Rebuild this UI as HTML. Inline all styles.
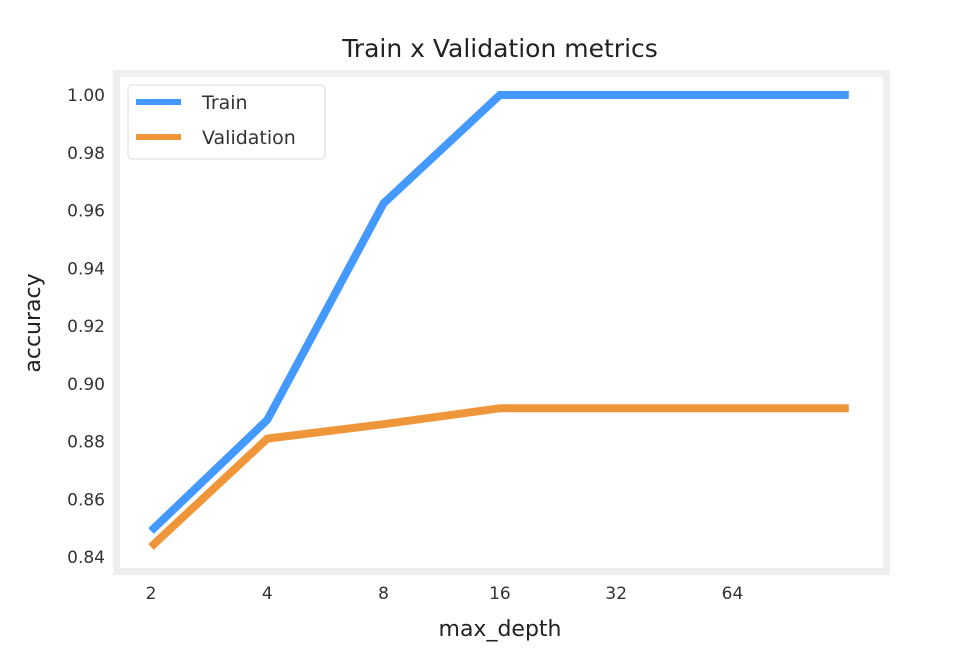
<!DOCTYPE html>
<html><head><meta charset="utf-8"><style>
body{margin:0;background:#fff;}
svg{display:block;font-family:"DejaVu Sans","Liberation Sans",sans-serif;}
</style></head><body>
<svg id="chart" width="954" height="670">
<text x="500" y="57" text-anchor="middle" font-size="25" fill="#222">Train x Validation metrics</text>
<rect x="116.5" y="73.5" width="770" height="498" fill="#fff" stroke="#efefef" stroke-width="7"/>
<g id="yticks"></g><g id="xticks"></g><g id="lines"></g>
<text x="500" y="636" text-anchor="middle" font-size="22" fill="#222">max_depth</text>
<text transform="translate(40,323) rotate(-90)" text-anchor="middle" font-size="22" fill="#222">accuracy</text>
<g>
<rect x="128" y="85" width="197" height="74" rx="4" fill="#fff" stroke="#e6e6e6" stroke-width="1.5"/>
<line x1="136" y1="102" x2="181" y2="102" stroke="#4499ff" stroke-width="6"/>
<text x="202" y="109" font-size="19" fill="#333">Train</text>
<line x1="136" y1="137" x2="181" y2="137" stroke="#f0963a" stroke-width="6"/>
<text x="202" y="144" font-size="19" fill="#333">Validation</text>
</g>
</svg>
<script>
const categories = ["2","4","8","16","32","64","None"];
const xTickLabels = ["2","4","8","16","32","64"];
const trainValues = [0.849,0.8875,0.9625,1.0,1.0,1.0,1.0];
const validationValues = [0.8435,0.881,0.886,0.8915,0.8915,0.8915,0.8915];
const yTicks = [0.84,0.86,0.88,0.90,0.92,0.94,0.96,0.98,1.00];
const NS="http://www.w3.org/2000/svg";
function xs(i){return 151+i*116.3;}
function ys(v){return 557-(v-0.84)/0.02*57.75;}
const yt=document.getElementById('yticks');
yTicks.forEach(v=>{
  const t=document.createElementNS(NS,'text');
  t.setAttribute('x',105);t.setAttribute('y',ys(v)+6);
  t.setAttribute('text-anchor','end');t.setAttribute('font-size','17');t.setAttribute('fill','#333');
  
  
  t.textContent=v.toFixed(2);yt.appendChild(t);
});
const xt=document.getElementById('xticks');
xTickLabels.forEach((l,i)=>{
  const t=document.createElementNS(NS,'text');
  t.setAttribute('x',xs(i));t.setAttribute('y',599);
  t.setAttribute('text-anchor','middle');t.setAttribute('font-size','17');t.setAttribute('fill','#333');
  
  
  t.textContent=l;xt.appendChild(t);
});
const lg=document.getElementById('lines');
[[trainValues,'#4499ff','train-line'],[validationValues,'#f0963a','validation-line']].forEach(([vals,c,n])=>{
  const p=document.createElementNS(NS,'polyline');
  p.setAttribute('points',vals.map((v,i)=>xs(i)+','+ys(v)).join(' '));
  p.setAttribute('fill','none');p.setAttribute('stroke',c);p.setAttribute('stroke-width','8');
  
  
  lg.appendChild(p);
});
</script>
</body></html>
